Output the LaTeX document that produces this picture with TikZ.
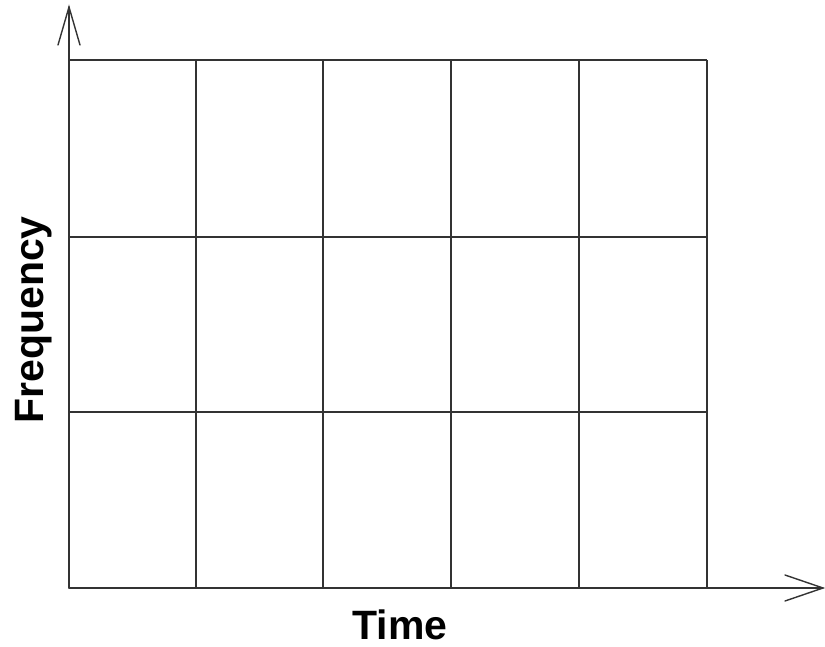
\documentclass[tikz,border=0pt]{standalone}
\usepackage{fontspec}
\setmainfont{Liberation Sans}
\begin{document}
\begin{tikzpicture}[x=1pt,y=1pt,
  gridline/.style={line width=1.4pt,draw=black!80},
  axisline/.style={line width=1.4pt,draw=black!80,line cap=round,line join=miter},
  axislabel/.style={font=\fontsize{41}{41}\selectfont\bfseries,inner sep=0pt}]
\useasboundingbox (0,0) rectangle (825,646);
% grid
\foreach \x in {196,323,451,579,707} \draw[gridline] (\x,58) -- (\x,586);
\foreach \y in {234,409,586} \draw[gridline] (69,\y) -- (707,\y);
% axes
\coordinate (o) at (69,58);
\coordinate (ytip) at (69,639);
\coordinate (xtip) at (823,58);
\draw[axisline] (o) -- (ytip);
\draw[axisline] (o) -- (xtip);
\draw[axisline] (58,601) -- (ytip) -- (80,601);
\draw[axisline] (785,71) -- (xtip) -- (785,45);
% labels
\node[axislabel,rotate=90,anchor=base] (freq) at (43,326) {Frequency};
\node[axislabel,anchor=base] (time) at (400,7) {Time};
\end{tikzpicture}
\end{document}
